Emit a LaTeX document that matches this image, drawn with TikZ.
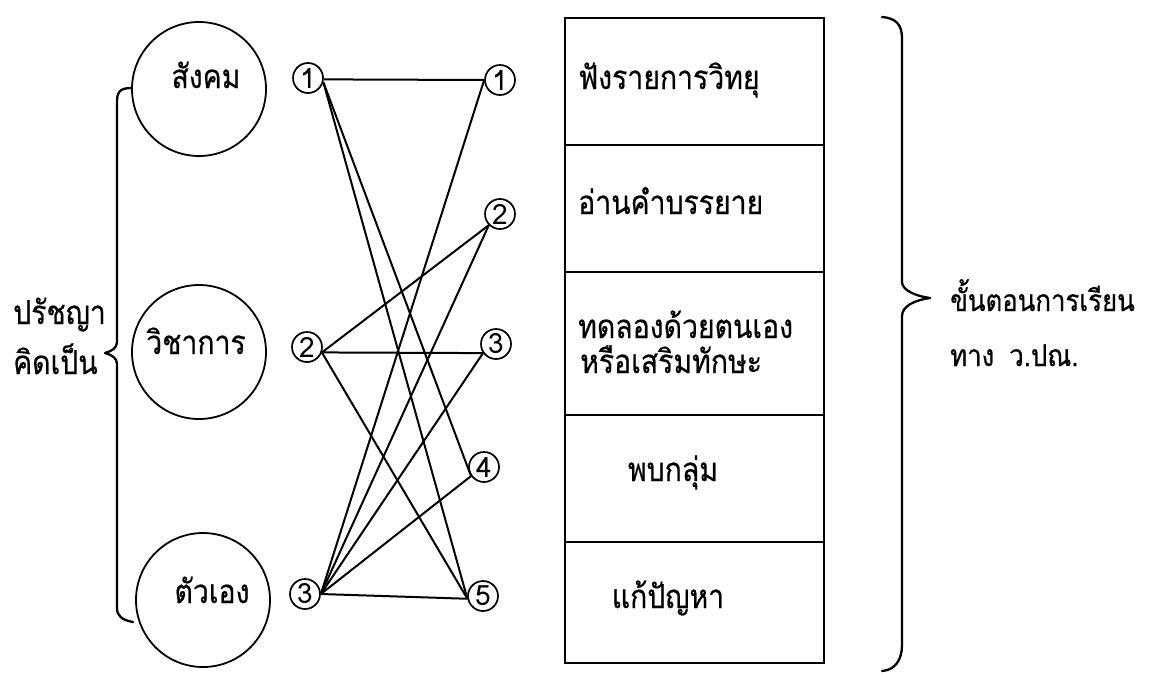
\documentclass[tikz,border=0pt]{standalone}
\usepackage{fontspec}
\newfontfamily\thai[Script=Thai, FakeStretch=0.86, FakeBold=0.5]{Loma}
\newfontfamily\thaidig[Script=Thai]{Loma}
\tikzset{
  bigc/.style={circle, draw, line width=1.8pt, minimum size=134pt, inner sep=0pt},
  smallc/.style={circle, draw, line width=1.7pt, minimum size=30pt, inner sep=0pt, font=\thaidig\fontsize{28}{30}\selectfont},
  ttxt/.style={font=\thai\fontsize{33}{38}\selectfont, inner sep=0pt},
  rtxt/.style={font=\thai\fontsize{30}{36}\selectfont, inner sep=0pt},
  conn/.style={line width=2pt},
  boxline/.style={line width=2.3pt},
  brace/.style={line width=2.3pt, line join=round, line cap=round}
}
\begin{document}
\begin{tikzpicture}[x=1pt,y=-1pt]
\useasboundingbox (0,0) rectangle (1155,673);

% big circles
\node[bigc] (soc) at (199,89) {};
\node[bigc] (aca) at (199,352) {};
\node[bigc] (self) at (203,600) {};
\node[ttxt, anchor=base] (socT) at (206,88) {สังคม};
\node[ttxt, anchor=base] (acaT) at (196,354) {วิชาการ};
\node[ttxt, anchor=base] (selfT) at (212,603) {ตัวเอง};

% left brace and label
\draw[brace] (131,88) .. controls (120,88) and (117,92) .. (117,102) -- (117,342)
  .. controls (117,348) and (112,351) .. (105,353) .. controls (112,355) and (117,358) .. (117,364)
  -- (117,608) .. controls (117,616) and (122,620) .. (133,622);
\node[ttxt, anchor=base west] (phil1) at (13,324) {ปรัชญา};
\node[ttxt, anchor=base west] (phil2) at (13,374) {คิดเป็น};

% small circles
\node[smallc] (L1) at (308,78) {1};
\node[smallc] (L2) at (307,347) {2};
\node[smallc] (L3) at (305,594) {3};
\node[smallc] (R1) at (500,80) {1};
\node[smallc] (R2) at (500,214) {2};
\node[smallc] (R3) at (496,344) {3};
\node[smallc] (R4) at (484,467) {4};
\node[smallc] (R5) at (483,596) {5};

% connectors
\draw[conn] (L1.-5) -- (R1.west);
\draw[conn] (L1.-15) -- (R4.215);
\draw[conn] (L1.-15) -- (R5.190);
\draw[conn] (L2.-20) -- (R2.225);
\draw[conn] (L2.-20) -- (R3.215);
\draw[conn] (L2.-20) -- (R5.190);
\draw[conn] (L3.east) -- (R1.west);
\draw[conn] (L3.east) -- (R2.225);
\draw[conn] (L3.east) -- (R3.215);
\draw[conn] (L3.east) -- (R4.215);
\draw[conn] (L3.east) -- (R5.190);

% table of steps
\coordinate (bTL) at (565,18);
\coordinate (bBR) at (824,663);
\draw[boxline] (bTL) rectangle (bBR);
\draw[boxline] (565,145) -- (824,145);
\draw[boxline] (565,272) -- (824,272);
\draw[boxline] (565,415) -- (824,415);
\draw[boxline] (565,542) -- (824,542);
\node[ttxt, anchor=base west] (s1) at (578,89) {ฟังรายการวิทยุ};
\node[ttxt, anchor=base west] (s2) at (578,214) {อ่านคำบรรยาย};
\node[ttxt, anchor=base west] (s3a) at (578,338) {ทดลองด้วยตนเอง};
\node[ttxt, anchor=base west] (s3b) at (580,373) {หรือเสริมทักษะ};
\node[ttxt, anchor=base] (s4) at (673,481) {พบกลุ่ม};
\node[ttxt, anchor=base] (s5) at (668,608) {แก้ปัญหา};

% right brace and label
\draw[brace] (882,17) .. controls (896,18) and (902,25) .. (902,38) -- (902,282)
  .. controls (902,290) and (915,296) .. (930,298) .. controls (915,300) and (902,306) .. (902,316)
  -- (902,645) .. controls (902,660) and (895,670) .. (882,671);
\node[rtxt, anchor=base west] (r1) at (950,311) {ขั้นตอนการเรียน};
\node[rtxt, anchor=base west] (r2) at (950,366) {ทาง\hspace{0.5em}ว.ปณ.};
\end{tikzpicture}
\end{document}
